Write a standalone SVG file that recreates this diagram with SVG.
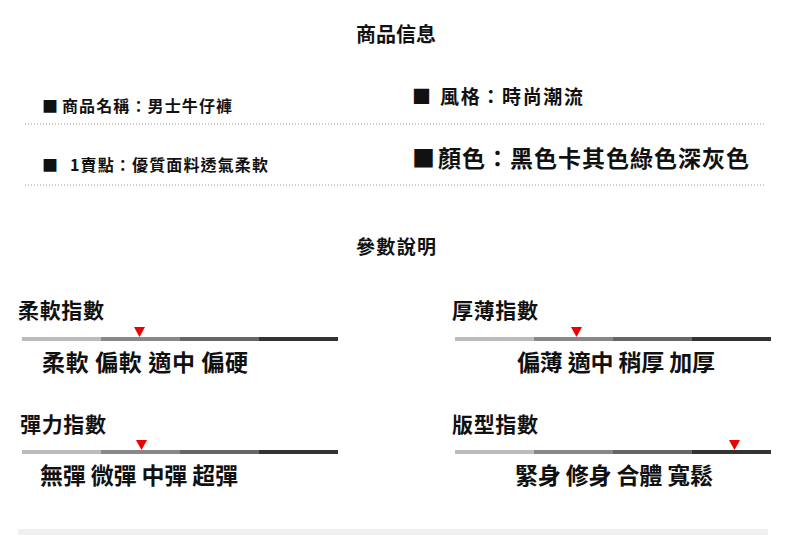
<svg xmlns="http://www.w3.org/2000/svg" width="790" height="535" viewBox="0 0 790 535">
<style>
text{font-family:"Noto Sans CJK TC","Noto Sans CJK SC",sans-serif;font-weight:bold;fill:#111}
.dot{stroke:#999;stroke-width:1;stroke-dasharray:1 2}
.tri{fill:#e00}
</style>
<rect width="790" height="535" fill="#fff"/>
<text x="356" y="42" font-size="20" font-weight="500" textLength="80">商品信息</text>
<g id="info">
<text x="42" y="112" font-size="16">■ <tspan x="62" textLength="170">商品名稱：男士牛仔褲</tspan></text>
<text x="412" y="104" font-size="19">■ <tspan x="440" textLength="143">風格：時尚潮流</tspan></text>
<text x="42" y="171" font-size="16">■ <tspan x="70" textLength="198">1賣點：優質面料透氣柔軟</tspan></text>
<text x="412" y="167" font-size="23">■ <tspan x="438" textLength="311">顏色：黑色卡其色綠色深灰色</tspan></text>
<line class="dot" x1="25" y1="124" x2="766" y2="124"/>
<line class="dot" x1="25" y1="185" x2="766" y2="185"/>
</g>
<text x="356" y="254" font-size="19" textLength="80">參數說明</text>
<defs>
<g id="bar">
<rect x="0" y="0" width="79" height="4" fill="#bbb"/>
<rect x="79" y="0" width="79" height="4" fill="#888"/>
<rect x="158" y="0" width="79" height="4" fill="#666"/>
<rect x="237" y="0" width="79" height="4" fill="#333"/>
</g>
</defs>
<g id="soft">
<text x="18" y="318" font-size="21" textLength="86">柔軟指數</text>
<use href="#bar" x="22" y="337"/>
<polygon class="tri" points="134,327 145,327 139.5,337"/>
<text x="42" y="371" font-size="23" textLength="206">柔軟 偏軟 適中 偏硬</text>
</g>
<g id="thick">
<text x="452" y="318" font-size="21" textLength="86">厚薄指數</text>
<use href="#bar" x="455" y="337"/>
<polygon class="tri" points="571,327 582,327 576.5,337"/>
<text x="517" y="371" font-size="23" textLength="198">偏薄 適中 稍厚 加厚</text>
</g>
<g id="elastic">
<text x="20" y="432" font-size="21" textLength="86">彈力指數</text>
<use href="#bar" x="22" y="450"/>
<polygon class="tri" points="136,440 147,440 141.5,450"/>
<text x="40" y="484" font-size="23" textLength="198">無彈 微彈 中彈 超彈</text>
</g>
<g id="fit">
<text x="452" y="432" font-size="21" textLength="86">版型指數</text>
<use href="#bar" x="455" y="450"/>
<polygon class="tri" points="729,440 740,440 734.5,450"/>
<text x="515" y="484" font-size="23" textLength="198">緊身 修身 合體 寬鬆</text>
</g>
<rect x="18" y="529" width="750" height="6" fill="#f0f0f0"/>
</svg>
